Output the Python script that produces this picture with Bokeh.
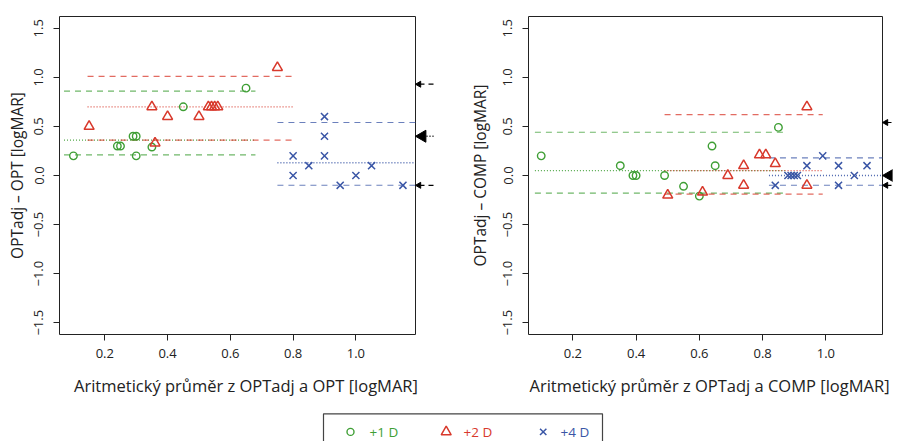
import math
from bokeh.plotting import figure
from bokeh.layouts import column, row
from bokeh.models import FixedTicker, CustomJSTickFormatter, Range1d
from bokeh.embed import file_html
from bokeh.resources import INLINE
from bokeh.core.properties import value

GREEN, RED, BLUE = "#3f9f35", "#d8392c", "#3a56a6"
FONT = "Open Sans"

groups = ["+1 D", "+2 D", "+4 D"]
colors = [GREEN, RED, BLUE]
markers = ["circle", "triangle", "x"]

# ---- left panel: OPTadj - OPT ----
left_x_1 = [0.10, 0.24, 0.25, 0.29, 0.30, 0.30, 0.35, 0.45, 0.65]
left_y_1 = [0.20, 0.30, 0.30, 0.40, 0.40, 0.20, 0.29, 0.70, 0.89]
left_x_2 = [0.15, 0.35, 0.36, 0.40, 0.50, 0.53, 0.54, 0.55, 0.56, 0.75]
left_y_2 = [0.50, 0.70, 0.33, 0.60, 0.60, 0.70, 0.70, 0.70, 0.70, 1.10]
left_x_4 = [0.80, 0.80, 0.85, 0.90, 0.90, 0.90, 0.95, 1.00, 1.05, 1.15]
left_y_4 = [0.20, 0.00, 0.10, 0.60, 0.40, 0.20, -0.10, 0.00, 0.10, -0.10]
# group lines: (lower LoA, mean, upper LoA) and their x extent
left_levels = [(0.21, 0.36, 0.86), (0.36, 0.70, 1.01), (-0.10, 0.13, 0.54)]
left_spans = [(0.07, 0.68), (0.145, 0.80), (0.75, 1.25)]
left_overall = (-0.10, 0.40, 0.93)

# ---- right panel: OPTadj - COMP ----
right_x_1 = [0.10, 0.35, 0.39, 0.40, 0.49, 0.55, 0.60, 0.64, 0.65, 0.85]
right_y_1 = [0.20, 0.10, 0.00, 0.00, 0.00, -0.11, -0.21, 0.30, 0.10, 0.49]
right_x_2 = [0.50, 0.61, 0.69, 0.74, 0.74, 0.79, 0.81, 0.84, 0.94, 0.94]
right_y_2 = [-0.20, -0.17, 0.00, 0.10, -0.10, 0.21, 0.21, 0.12, 0.70, -0.10]
right_x_4 = [0.84, 0.88, 0.89, 0.90, 0.91, 0.94, 0.99, 1.04, 1.04, 1.09, 1.13]
right_y_4 = [-0.10, 0.00, 0.00, 0.00, 0.00, 0.10, 0.20, 0.10, -0.10, 0.00, 0.10]
right_levels = [(-0.18, 0.05, 0.44), (-0.19, 0.05, 0.62), (-0.10, 0.00, 0.18)]
right_spans = [(0.08, 0.87), (0.49, 0.99), (0.82, 1.25)]
right_overall = (-0.10, 0.00, 0.54)

x_ticks = [0.2, 0.4, 0.6, 0.8, 1.0]
y_ticks = [-1.5, -1.0, -0.5, 0.0, 0.5, 1.0, 1.5]
Y_LIM = (-1.62, 1.62)

PH = 404          # panel canvas height
BOX_TOP = 16      # px of plot box top
BOX_H = 318       # px height of plot box
PAD = 2           # frame extends this far beyond the plot box

fmt_code = "return tick < 0 ? '\\u2212' + (-tick).toFixed(1) : tick.toFixed(1);"


def make_panel(series, levels, spans, overall, xlim, width, box_left, box_w, frame_right,
               ylabel, xlabel, ystand, ylabstand):
    x0, x1 = xlim
    pxx = box_w / (x1 - x0)
    pxy = BOX_H / (Y_LIM[1] - Y_LIM[0])
    frame_left = box_left - PAD
    frame_w = frame_right - frame_left
    xr = Range1d(x0 - PAD / pxx, x0 + (frame_w - PAD) / pxx)
    yr = Range1d(Y_LIM[0] - PAD / pxy, Y_LIM[1] + PAD / pxy)
    fh = BOX_H + 2 * PAD
    p = figure(width=width, height=PH, x_range=xr, y_range=yr,
               output_backend="svg", toolbar_location=None,
               min_border_left=frame_left, min_border_right=width - frame_right,
               min_border_top=BOX_TOP - PAD, min_border_bottom=PH - (BOX_TOP - PAD) - fh)
    p.grid.visible = False
    p.outline_line_color = None
    for ax in (p.xaxis[0], p.yaxis[0]):
        ax.axis_line_color = None
        ax.major_tick_out = 4
        ax.major_tick_in = PAD
        ax.minor_tick_line_color = None
        ax.major_tick_line_color = "#222222"
        ax.major_label_text_font = FONT
        ax.major_label_text_font_size = "13px"
        ax.major_label_text_color = "#222222"
        ax.axis_label_text_font = FONT
        ax.axis_label_text_font_style = "normal"
        ax.axis_label_text_color = "#222222"
        ax.formatter = CustomJSTickFormatter(code=fmt_code)
    p.xaxis.ticker = FixedTicker(ticks=x_ticks)
    p.yaxis.ticker = FixedTicker(ticks=y_ticks)
    p.yaxis.major_label_orientation = "vertical"
    p.xaxis.major_label_standoff = 8
    p.yaxis.major_label_standoff = ystand
    p.xaxis.axis_label = xlabel
    p.yaxis.axis_label = ylabel
    p.xaxis.axis_label_text_font_size = "16.5px"
    p.yaxis.axis_label_text_font_size = "15.5px"
    p.xaxis.axis_label_standoff = 13
    p.yaxis.axis_label_standoff = ylabstand

    # plot box
    p.quad(left=[x0], right=[x1], bottom=[Y_LIM[0]], top=[Y_LIM[1]],
           fill_color=None, line_color="#222222", line_width=1)

    for (lo, mn, hi), (sx0, sx1), c in zip(levels, spans, colors):
        sx1 = min(sx1, x1)
        p.segment(x0=[sx0, sx0], y0=[lo, hi], x1=[sx1, sx1], y1=[lo, hi],
                  line_color=c, line_width=1.1, line_alpha=0.75, line_dash="6 5")
        p.segment(x0=[sx0], y0=[mn], x1=[sx1], y1=[mn],
                  line_color=c, line_width=1.3, line_alpha=0.9, line_dash="1 2")

    for (x, y), c, m in zip(series, colors, markers):
        if m == "circle":
            p.scatter(x, y, marker=m, size=7.5, fill_color=None, line_color=c, line_width=1.4)
        elif m == "triangle":
            p.scatter(x, y, marker=m, size=10, fill_color=None, line_color=c, line_width=1.5)
        else:
            p.scatter(x, y, marker=m, size=10, line_color=c, line_width=1.5)

    # overall limits / mean: arrows outside the right edge of the box
    lo, mn, hi = overall
    tail = x1 + 18 / pxx
    p.segment(x0=[tail, tail], y0=[lo, hi], x1=[x1, x1], y1=[lo, hi],
              line_color="black", line_width=1.2, line_dash="5 4")
    p.segment(x0=[tail], y0=[mn], x1=[x1], y1=[mn],
              line_color="black", line_width=1.3, line_dash="1 2")
    small, big = 6, 12
    p.scatter([x1 + 0.577 * small / pxx] * 2, [lo, hi], marker="triangle", size=small,
              angle=math.pi / 2, fill_color="black", line_color="black", line_width=1)
    p.scatter([x1 + 0.577 * big / pxx], [mn], marker="triangle", size=big,
              angle=math.pi / 2, fill_color="black", line_color="black", line_width=1)
    return p


p1 = make_panel([(left_x_1, left_y_1), (left_x_2, left_y_2), (left_x_4, left_y_4)],
                left_levels, left_spans, left_overall, (0.0556, 1.19), 450, 59, 356, 434,
                "OPTadj \u2013 OPT [logMAR]", "Aritmetický průměr z OPTadj a OPT [logMAR]",
                10, 4)
p2 = make_panel([(right_x_1, right_y_1), (right_x_2, right_y_2), (right_x_4, right_y_4)],
                right_levels, right_spans, right_overall, (0.0598, 1.179), 447, 78, 354, 442,
                "OPTadj \u2013 COMP [logMAR]", "Aritmetický průměr z OPTadj a COMP [logMAR]",
                10, 10)

# ---- legend strip (y measured upward from the page bottom) ----
LH = 441 - PH
leg = figure(width=897, height=LH, x_range=Range1d(0, 897), y_range=Range1d(0, LH),
             output_backend="svg", toolbar_location=None, min_border=0)
leg.axis.visible = False
leg.grid.visible = False
leg.outline_line_color = None
box_top = 27.7
leg.quad(left=[323], right=[602], top=[box_top], bottom=[-5], fill_color=None,
         line_color="#444444", line_width=1.2)
ly = 9.6
mx = [350, 445.7, 542.7]
tx = [369, 463, 560]
for i, (g, c, m) in enumerate(zip(groups, colors, markers)):
    if m == "circle":
        leg.scatter([mx[i]], [ly], marker=m, size=7, fill_color=None, line_color=c, line_width=1.4)
    elif m == "triangle":
        leg.scatter([mx[i]], [ly], marker=m, size=10, fill_color=None, line_color=c, line_width=1.5)
    else:
        leg.scatter([mx[i]], [ly], marker=m, size=9, line_color=c, line_width=1.5)
    leg.text([tx[i]], [ly], text=[g], text_color=c, text_font=value(FONT),
             text_font_size="13.5px", text_baseline="middle", text_align="left")

layout = column(row(p1, p2), leg)
open("out.html", "w").write(file_html(layout, INLINE))
